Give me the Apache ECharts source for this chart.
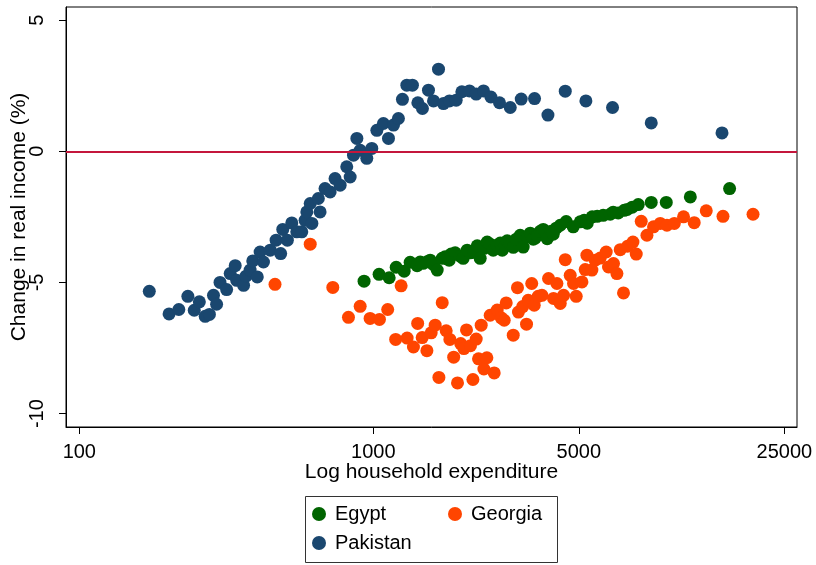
<!DOCTYPE html>
<html>
<head>
<meta charset="utf-8" />
<title>Change in real income</title>
<script src="https://cdn.jsdelivr.net/npm/echarts@6/dist/echarts.min.js"></script>
<style>
html, body { margin: 0; padding: 0; background: #fff; }
#main { width: 816px; height: 565px; }
</style>
</head>
<body>
<div id="main"></div>
<script type="text/javascript">
// tick labels
var xTicks = [100, 1000, 5000, 25000];
var yTicks = [-10, -5, 0, 5];
var seriesNames = ['Egypt', 'Georgia', 'Pakistan'];

// Egypt: household expenditure / change in real income (%)
var egyptExp = [930, 1046, 1132, 1196, 1273, 1334, 1409, 1443, 1477, 1524, 1561, 1598, 1649, 1715, 1755, 1783, 1811, 1839, 1898, 1974,
	2021, 2085, 2135, 2203, 2256, 2309, 2382, 2439, 2497, 2557, 2638, 2701, 2744, 2809, 2853, 2922, 2991, 3062, 3159, 3234,
	3337, 3417, 3498, 3552, 3609, 3695, 3783, 3903, 4027, 4091, 4188, 4322, 4529, 4784, 5054, 5214, 5338, 5551, 5773, 6051,
	6392, 6544, 6806, 7135, 7304, 7596, 7962, 8814, 9915, 11970, 16280];
var egyptChg = [-4.95, -4.69, -4.82, -4.42, -4.57, -4.23, -4.36, -4.22, -4.27, -4.21, -4.15, -4.31, -4.53, -4.08, -4.02, -4.10, -4.15, -3.92, -3.87, -4.00,
	-4.08, -3.77, -3.87, -3.85, -3.60, -4.08, -3.70, -3.46, -3.54, -3.77, -3.58, -3.50, -3.77, -3.62, -3.41, -3.54, -3.66, -3.35, -3.20, -3.65,
	-3.26, -3.12, -3.35, -3.31, -3.22, -3.05, -2.98, -3.33, -3.05, -3.16, -2.93, -2.82, -2.68, -2.88, -2.69, -2.63, -2.74, -2.50, -2.48, -2.44,
	-2.40, -2.32, -2.35, -2.25, -2.22, -2.13, -2.03, -1.95, -1.95, -1.74, -1.42];

// Georgia
var georgiaExp = [463, 610, 728, 823, 902, 975, 1049, 1119, 1191, 1243, 1303, 1369, 1415, 1466, 1521, 1573, 1623, 1671, 1715, 1769,
	1821, 1876, 1933, 1982, 2032, 2074, 2140, 2181, 2238, 2279, 2327, 2377, 2433, 2497, 2577, 2638, 2722, 2787, 2831, 2991,
	3092, 3116, 3221, 3319, 3363, 3457, 3525, 3637, 3744, 3943, 4100, 4211, 4322, 4436, 4495, 4673, 4795, 4898, 5122, 5255,
	5326, 5538, 5684, 5911, 6195, 6308, 6559, 6736, 6913, 7094, 7319, 7637, 7837, 8150, 8522, 8974, 9458, 9968, 10560, 11350,
	12340, 13560, 15460, 19560];
var georgiaChg = [-5.07, -3.54, -5.19, -6.33, -5.91, -6.37, -6.41, -6.03, -7.17, -5.13, -7.12, -7.46, -6.56, -7.10, -7.60, -6.92, -6.63, -8.62, -5.77, -6.84,
	-7.17, -7.85, -8.83, -7.33, -7.52, -6.81, -7.41, -8.70, -7.16, -7.91, -6.63, -8.30, -7.87, -6.25, -8.45, -6.05, -6.35, -6.44, -5.78, -7.01,
	-5.20, -6.13, -5.92, -6.59, -5.68, -5.04, -5.87, -5.53, -5.49, -4.85, -5.61, -5.04, -5.80, -5.49, -4.13, -4.73, -5.04, -5.53, -4.98, -4.51,
	-3.96, -4.53, -4.15, -4.07, -3.84, -4.41, -4.28, -4.66, -3.75, -5.40, -3.62, -3.46, -3.92, -2.67, -3.20, -2.88, -2.75, -2.82, -2.75, -2.50,
	-2.72, -2.27, -2.48, -2.40];

// Pakistan
var pakistanExp = [173, 202, 218, 234, 246, 256, 268, 277, 286, 293, 301, 317, 326, 339, 343, 362, 369, 381, 389, 403,
	412, 423, 446, 467, 484, 492, 510, 528, 549, 571, 586, 594, 610, 618, 650, 659, 685, 713, 741, 771,
	812, 834, 856, 879, 902, 950, 988, 1028, 1082, 1126, 1171, 1217, 1256, 1300, 1358, 1417, 1469, 1540, 1602, 1666,
	1732, 1815, 1913, 2000, 2123, 2238, 2370, 2511, 2686, 2922, 3184, 3534, 3925, 4495, 5284, 6509, 8814, 15340];
var pakistanChg = [-5.34, -6.20, -6.03, -5.53, -6.06, -5.74, -6.29, -6.22, -5.49, -5.83, -5.00, -5.27, -4.66, -4.36, -4.92, -5.11, -4.76, -4.53, -4.18, -4.79,
	-3.84, -4.22, -3.77, -3.39, -3.90, -2.98, -3.39, -2.73, -3.07, -3.07, -2.63, -2.31, -1.99, -2.75, -1.80, -2.31, -1.42, -1.55, -1.04, -1.29,
	-0.59, -0.98, -0.15, 0.49, 0.04, -0.27, 0.11, 0.80, 1.06, 0.49, 1.00, 1.25, 1.98, 2.52, 2.52, 1.85, 1.63, 2.33, 1.92, 3.13,
	1.82, 1.92, 1.95, 2.27, 2.30, 2.18, 2.30, 2.07, 1.85, 1.67, 1.99, 2.01, 1.38, 2.29, 1.92, 1.67, 1.08, 0.70];

function pairs(xs, ys) {
	var out = [];
	for (var i = 0; i < xs.length; i++) out.push([xs[i], ys[i]]);
	return out;
}

var font = 'Liberation Sans, Arial, Helvetica, sans-serif';
var myChart = echarts.init(document.getElementById('main'));

var option = {
	animation: false,
	backgroundColor: '#fff',
	textStyle: { fontFamily: font, color: '#000' },
	grid: {
		left: 66, right: 19, top: 7, bottom: 138,
		outerBoundsMode: 'none', containLabel: false,
		show: true, borderColor: '#000', borderWidth: 1, backgroundColor: '#fff'
	},
	legend: {
		data: seriesNames,
		icon: 'circle',
		left: 312, top: 503, width: 300,
		padding: 0,
		itemWidth: 22, itemHeight: 14, itemGap: 7,
		textStyle: { fontFamily: font, fontSize: 20, color: '#000', width: 106, lineHeight: 22 }
	},
	graphic: [{
		type: 'rect', silent: true, z: 10,
		shape: { x: 305.5, y: 496.5, width: 252, height: 66 },
		style: { fill: 'none', stroke: '#333', lineWidth: 1 }
	}],
	xAxis: {
		type: 'log', logBase: 10, min: 90.1, max: 27600,
		name: 'Log household expenditure', nameLocation: 'middle', nameGap: 35,
		nameMoveOverlap: false,
		nameTextStyle: { fontFamily: font, fontSize: 21, color: '#000' },
		axisLine: { onZero: false, lineStyle: { color: '#000', width: 1 } },
		axisTick: { customValues: xTicks, length: 7, lineStyle: { color: '#000' } },
		axisLabel: {
			customValues: xTicks, margin: 15, fontSize: 20, color: '#000', fontFamily: font,
			formatter: function (v) { return String(Math.round(v)); }
		},
		splitLine: { show: false }, minorTick: { show: false }
	},
	yAxis: {
		type: 'value', min: -10.51, max: 5.5,
		name: 'Change in real income (%)', nameLocation: 'middle', nameGap: 36,
		nameMoveOverlap: false,
		nameTextStyle: { fontFamily: font, fontSize: 21, color: '#000' },
		axisLine: { onZero: false, lineStyle: { color: '#000', width: 1 } },
		axisTick: { customValues: yTicks, length: 7, lineStyle: { color: '#000' } },
		axisLabel: { customValues: yTicks, rotate: 90, margin: 19, fontSize: 20, color: '#000', fontFamily: font },
		splitLine: { show: false }
	},
	series: [
		{
			name: 'Egypt', type: 'scatter', symbolSize: 13,
			itemStyle: { color: '#006400', opacity: 1 },
			data: pairs(egyptExp, egyptChg),
			emphasis: { disabled: true },
			markLine: {
				silent: true, symbol: 'none', label: { show: false },
				lineStyle: { color: '#c4163c', width: 2, type: 'solid' },
				data: [{ yAxis: 0 }]
			}
		},
		{
			name: 'Georgia', type: 'scatter', symbolSize: 13,
			itemStyle: { color: '#ff4500', opacity: 1 },
			data: pairs(georgiaExp, georgiaChg),
			emphasis: { disabled: true }
		},
		{
			name: 'Pakistan', type: 'scatter', symbolSize: 13,
			itemStyle: { color: '#1a476f', opacity: 1 },
			data: pairs(pakistanExp, pakistanChg),
			emphasis: { disabled: true }
		}
	]
};

myChart.setOption(option);
</script>
</body>
</html>
